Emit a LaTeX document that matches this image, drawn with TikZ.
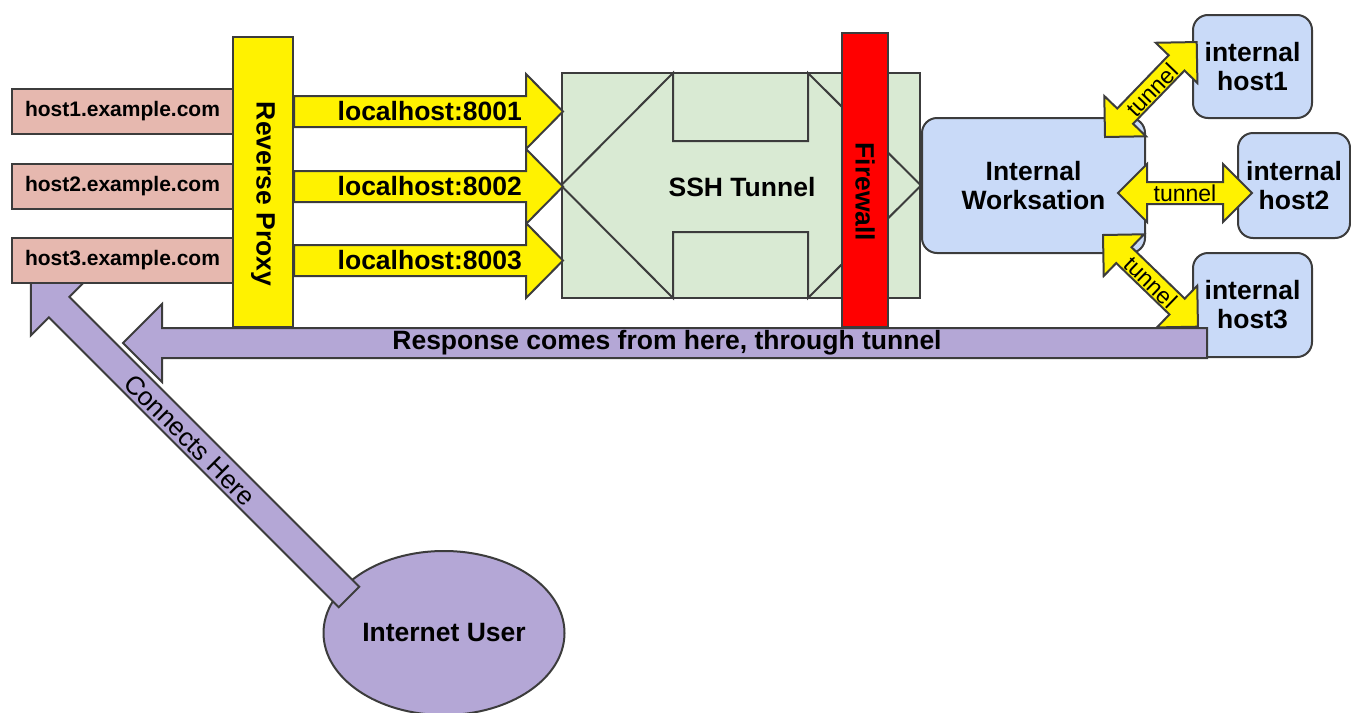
\documentclass[tikz,border=0pt]{standalone}
\usepackage{fontspec}
\setmainfont{Liberation Sans}
\usetikzlibrary{shapes.geometric}

\definecolor{hostred}{HTML}{E6B8AF}
\definecolor{tunnelgreen}{HTML}{D9EAD3}
\definecolor{lanblue}{HTML}{C9DAF8}
\definecolor{userpurple}{HTML}{B4A7D6}
\definecolor{edge}{HTML}{3C3C3C}

\tikzset{
	box/.style={draw=edge, line width=2pt, inner sep=0pt, align=center},
	bigtext/.style={inner sep=0pt, font=\fontsize{26.5}{29}\selectfont\bfseries},
	plaintext/.style={inner sep=0pt, font=\fontsize{23}{26}\selectfont},
	hostbox/.style={box, fill=hostred, minimum width=221pt, minimum height=45pt,
		font=\fontsize{21}{24}\selectfont\bfseries},
	lanbox/.style={box, fill=lanblue, rounded corners=15pt, bigtext},
	yarrow/.style={draw=edge, line width=2pt, fill=yellow},
	parrow/.style={draw=edge, line width=2pt, fill=userpurple},
	pics/blockarrow/.style n args={4}{code={
		\path[pic actions] (0,-#2) -- (#1-#4,-#2) -- (#1-#4,-#3) -- (#1,0)
			-- (#1-#4,#3) -- (#1-#4,#2) -- (0,#2) -- cycle;
	}},
	pics/tunnelpipe/.style={code={
		\path[pic actions] (0,0) -- (29,-29) -- (29,-11) -- (#1-29,-11) -- (#1-29,-29)
			-- (#1,0) -- (#1-29,29) -- (#1-29,11) -- (29,11) -- (29,29) -- cycle;
	}},
}

\begin{document}
\begin{tikzpicture}[x=1pt, y=-1pt]
	\useasboundingbox (0,0) rectangle (1351,712);

	% internet user and the way in
	\node[ellipse, box, fill=userpurple, minimum width=241pt, minimum height=164pt, bigtext]
		(user) at (444,633) {Internet User};
	\coordinate (usertail) at (349,597);
	\pic[parrow, rotate=135] at (usertail) {blockarrow={450}{14.5}{40}{40}};
	\node[plaintext, font=\fontsize{26}{28}\selectfont, rotate=-45] (connects) at (190,440) {Connects Here};

	% public side
	\node[hostbox] (host1) at (122.5,111.5) {host1.example.com};
	\node[hostbox] (host2) at (122.5,186.5) {host2.example.com};
	\node[hostbox] (host3) at (122.5,260.5) {host3.example.com};
	\node[box, fill=yellow, minimum width=60pt, minimum height=290pt] (proxy) at (263,182) {};
	\node[bigtext, rotate=-90] (proxylabel) at (263,194) {Reverse Proxy};

	% ssh tunnel
	\node[box, fill=tunnelgreen, minimum width=358pt, minimum height=225pt] (tunnel) at (741,185.5) {};
	\draw[edge, line width=2pt] (tunnel.west) -- (673,73) -- (673,141) -- (808,141) -- (808,73)
		-- (tunnel.east) -- (808,298) -- (808,232) -- (673,232) -- (673,298) -- cycle;
	\node[bigtext] (sshlabel) at (742,187) {SSH Tunnel};

	\pic[yarrow] at (proxy.east |- host1) {blockarrow={269}{15.5}{37.5}{37}};
	\pic[yarrow] at (proxy.east |- host2) {blockarrow={269}{15.5}{37.5}{37}};
	\pic[yarrow] at (proxy.east |- host3) {blockarrow={269}{15.5}{37.5}{37}};
	\node[bigtext, anchor=east] (port1) at (522,111.5) {localhost:8001};
	\node[bigtext, anchor=east] (port2) at (522,186.5) {localhost:8002};
	\node[bigtext, anchor=east] (port3) at (522,260.5) {localhost:8003};

	\node[box, fill=red, minimum width=46pt, minimum height=294pt] (firewall) at (865,180) {};
	\node[bigtext, rotate=-90] (firewalllabel) at (865,192) {Firewall};

	% inside
	\node[lanbox, minimum width=223pt, minimum height=135pt] (ws) at (1033.5,185.5) {Internal\\Worksation};
	\node[lanbox, minimum width=119pt, minimum height=103pt] (inner1) at (1252.5,66.5) {internal\\host1};
	\node[lanbox, minimum width=112pt, minimum height=105pt] (inner2) at (1294,185.5) {internal\\host2};
	\node[lanbox, minimum width=119pt, minimum height=104pt] (inner3) at (1252.5,305) {internal\\host3};

	\pic[yarrow] at (1118,193) {tunnelpipe=134};
	\pic[yarrow, rotate=46] at (1105,137) {tunnelpipe=132};
	\pic[yarrow, rotate=-44] at (1103,235) {tunnelpipe=132};
	\node[plaintext] (pipe2) at (1185,193) {tunnel};
	\node[plaintext, rotate=46] (pipe1) at (1152,90) {tunnel};
	\node[plaintext, rotate=-44] (pipe3) at (1151,282) {tunnel};

	% way back
	\pic[parrow, rotate=180] at (1207,343) {blockarrow={1084}{15}{39}{39}};
	\node[bigtext] (replylabel) at (667,343) {Response comes from here, through tunnel};
\end{tikzpicture}
\end{document}
